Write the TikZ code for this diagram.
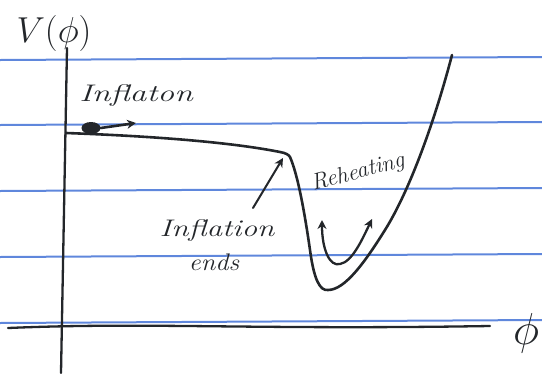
\documentclass[tikz,border=0pt]{standalone}
\usetikzlibrary{arrows.meta,shapes.geometric}
\definecolor{rule}{RGB}{95,135,220}
\definecolor{ink}{RGB}{35,38,42}
\begin{document}
\begin{tikzpicture}[x=1pt,y=-1pt,
  ruleline/.style={rule,line width=2pt},
  inkline/.style={ink,line width=2.6pt,line cap=round,line join=round},
  hand/.style={ink,font=\itshape\fontsize{24}{26}\selectfont},
  arr/.style={inkline,-{Stealth[length=9pt,width=9pt]}}]
\useasboundingbox (0,0) rectangle (542,373);
% ruled paper
\foreach \a/\b in {60/57,125/122,191/188,257/254,323/320}
  \draw[ruleline] (0,\a) -- (542,\b);
% axes
\coordinate (vtop) at (67,48);
\coordinate (vbot) at (61,373);
\draw[inkline,line width=2.3pt] (vtop) -- (vbot);
\coordinate (hl) at (8,328);
\coordinate (hr) at (490,326);
\draw[inkline,line width=2.3pt] (hl) .. controls (150,322) and (250,330) .. (hr);
\node[ink,font=\fontsize{24}{24}\selectfont,scale=1.8] (phi) at (526,333) {$\phi$};
\node[ink,font=\fontsize{24}{24}\selectfont,scale=1.45] (V) at (54,33) {$V(\phi)$};
% potential
\coordinate (p0) at (66,133);
\coordinate (knee) at (290,157);
\coordinate (pmin) at (328,290);
\coordinate (ptop) at (452,55);
\draw[inkline] (p0) .. controls (150,136) and (230,142) .. (280,152)
  .. controls (286,153) and (289,155) .. (knee)
  .. controls (298,175) and (305,215) .. (310,250)
  .. controls (314,280) and (320,291) .. (pmin)
  .. controls (345,290) and (365,262) .. (385,230)
  .. controls (410,190) and (435,120) .. (ptop);
% inflaton ball
\node[fill=ink,ellipse,minimum width=19pt,minimum height=12pt,inner sep=0pt] (ball) at (91,128) {};
\coordinate (balltip) at (136,123);
\draw[arr] (ball.east) -- (balltip);
\node[hand,xscale=1.4] (inflaton) at (136,95) {Inflaton};
% inflation ends
\node[hand,xscale=1.3] (ends1) at (217,230) {Inflation};
\node[hand,xscale=1.1] (ends2) at (214,262) {ends};
\coordinate (endstip) at (283,158);
\coordinate (endstail) at (253,208);
\draw[arr,line width=2pt] (endstail) -- (endstip);
% reheating
\node[hand,font=\itshape\fontsize{23}{24}\selectfont,rotate=15] (reheat) at (358,173) {Reheating};
\coordinate (oscl) at (322,220);
\coordinate (oscr) at (372,219);
\draw[inkline,line width=2.3pt,{Stealth[length=9pt,width=9pt]}-{Stealth[length=9pt,width=9pt]}] (oscl) .. controls (322,250) and (330,267) .. (340,264)
  .. controls (352,262) and (362,240) .. (oscr);
\end{tikzpicture}
\end{document}
